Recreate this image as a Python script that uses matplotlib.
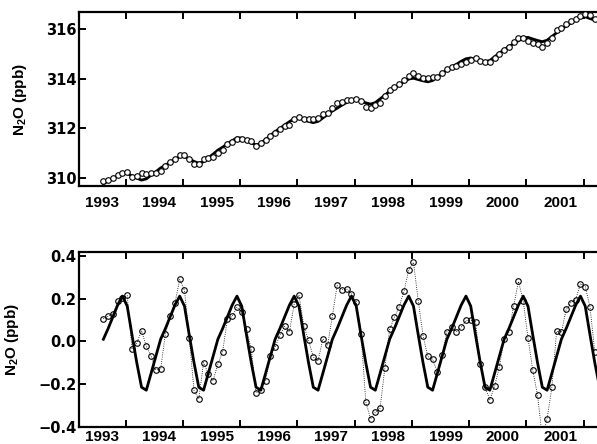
import numpy as np
import matplotlib
matplotlib.use("Agg")
from matplotlib import pyplot as plt

plt.rcParams["font.family"] = ["Liberation Sans", "DejaVu Sans"]
plt.rcParams["font.weight"] = "bold"
plt.rcParams["mathtext.fontset"] = "custom"
plt.rcParams["mathtext.rm"] = "Liberation Sans:bold"
plt.rcParams["mathtext.default"] = "rm"

# monthly samples starting Aug 1992
start_year = 1992.61
n_months = 105

# observed N2O (ppb), monthly
obs = [
    309.85, 309.92, 309.98, 310.10,
    310.17, 310.22, 310.01, 310.07, 310.17, 310.16, 310.18, 310.18, 310.25, 310.48, 310.63, 310.75,
    310.93, 310.92, 310.74, 310.53, 310.53, 310.77, 310.80, 310.84, 310.99, 311.12, 311.36, 311.44,
    311.56, 311.57, 311.53, 311.46, 311.29, 311.38, 311.51, 311.70, 311.82, 311.96, 312.08, 312.13,
    312.35, 312.46, 312.37, 312.38, 312.36, 312.41, 312.57, 312.60, 312.80, 313.01, 313.05, 313.12,
    313.15, 313.18, 313.10, 312.84, 312.82, 312.93, 313.02, 313.28, 313.54, 313.66, 313.78, 313.93,
    314.10, 314.22, 314.12, 314.04, 314.01, 314.07, 314.07, 314.21, 314.39, 314.47, 314.51, 314.60,
    314.69, 314.77, 314.83, 314.71, 314.68, 314.69, 314.82, 314.98, 315.17, 315.27, 315.47, 315.64,
    315.62, 315.52, 315.44, 315.39, 315.26, 315.42, 315.63, 315.97, 316.03, 316.21, 316.31, 316.40,
    316.54, 316.59, 316.56, 316.41,
]

# fitted curve (trend + seasonal cycle)
fit = [
    309.75, 309.86, 309.97, 310.08,
    310.18, 310.17, 310.07, 309.98, 309.90, 309.95, 310.10, 310.24, 310.39, 310.50, 310.625, 310.74,
    310.85, 310.845, 310.75, 310.655, 310.58, 310.64, 310.80, 310.95, 311.11, 311.23, 311.365, 311.49,
    311.61, 311.595, 311.50, 311.40, 311.32, 311.38, 311.54, 311.70, 311.86, 311.99, 312.125, 312.26,
    312.38, 312.405, 312.33, 312.27, 312.22, 312.27, 312.41, 312.55, 312.69, 312.805, 312.925, 313.04,
    313.14, 313.155, 313.09, 313.02, 312.97, 313.03, 313.18, 313.33, 313.49, 313.61, 313.735, 313.87,
    313.98, 314.015, 313.96, 313.91, 313.87, 313.92, 314.06, 314.20, 314.35, 314.46, 314.575, 314.70,
    314.80, 314.835, 314.77, 314.72, 314.68, 314.73, 314.88, 315.03, 315.17, 315.29, 315.415, 315.53,
    315.64, 315.665, 315.60, 315.54, 315.49, 315.55, 315.70, 315.85, 316.00, 316.12, 316.245, 316.37,
    316.48, 316.495, 316.425, 316.36, 316.305,
]

# detrended observations
detr = [
    0.106, 0.117, 0.128, 0.187,
    0.203, 0.215, -0.034, -0.008, 0.050, -0.023, -0.068, -0.134, -0.131, 0.035, 0.117, 0.180,
    0.290, 0.240, 0.017, -0.230, -0.270, -0.100, -0.152, -0.184, -0.106, -0.048, 0.106, 0.117,
    0.160, 0.136, 0.056, -0.037, -0.241, -0.229, -0.184, -0.070, -0.026, 0.030, 0.070, 0.044,
    0.176, 0.217, 0.074, 0.006, -0.073, -0.092, 0.011, -0.019, 0.120, 0.262, 0.242, 0.245,
    0.223, 0.186, 0.036, -0.283, -0.363, -0.333, -0.313, -0.124, 0.056, 0.114, 0.162, 0.234,
    0.334, 0.371, 0.189, 0.027, -0.071, -0.084, -0.143, -0.064, 0.045, 0.065, 0.045, 0.067,
    0.098, 0.098, 0.093, -0.106, -0.215, -0.273, -0.211, -0.120, 0.012, 0.044, 0.167, 0.281,
    0.190, 0.015, -0.135, -0.252, -0.450, -0.363, -0.216, 0.047, 0.042, 0.150, 0.182, 0.195,
    0.271, 0.257, 0.161, -0.050,
]

# seasonal cycle
seas = [
    0.010, 0.060, 0.115, 0.170,
    0.212, 0.165, 0.030, -0.100, -0.215, -0.229, -0.150, -0.070, 0.010, 0.060, 0.115, 0.170,
    0.212, 0.165, 0.030, -0.100, -0.215, -0.229, -0.150, -0.070, 0.010, 0.060, 0.115, 0.170,
    0.212, 0.165, 0.030, -0.100, -0.215, -0.229, -0.150, -0.070, 0.010, 0.060, 0.115, 0.170,
    0.212, 0.165, 0.030, -0.100, -0.215, -0.229, -0.150, -0.070, 0.010, 0.060, 0.115, 0.170,
    0.212, 0.165, 0.030, -0.100, -0.215, -0.229, -0.150, -0.070, 0.010, 0.060, 0.115, 0.170,
    0.212, 0.165, 0.030, -0.100, -0.215, -0.229, -0.150, -0.070, 0.010, 0.060, 0.115, 0.170,
    0.212, 0.165, 0.030, -0.100, -0.215, -0.229, -0.150, -0.070, 0.010, 0.060, 0.115, 0.170,
    0.212, 0.165, 0.030, -0.100, -0.215, -0.229, -0.150, -0.070, 0.010, 0.060, 0.115, 0.170,
    0.212, 0.165, 0.030, -0.100, -0.215,
]

years = list(range(1993, 2002))
top_yticks = [310, 312, 314, 316]
bot_yticks = [-0.4, -0.2, 0.0, 0.2, 0.4]
bot_ylabels = ["\u22120.4", "\u22120.2", "0.0", "0.2", "0.4"]

t = start_year + np.arange(n_months) / 12.0
t_obs = t[:len(obs)]

fig = plt.figure(figsize=(5.97, 4.44), dpi=100)
ax1 = fig.add_axes([0.1323, 0.581, 0.8677, 0.392])
ax2 = fig.add_axes([0.1323, 0.039, 0.8677, 0.394])

ax1.plot(t, fit, "k-", lw=2.0, zorder=2)
ax1.plot(t_obs, obs, "o", mfc="white", mec="k", ms=4, mew=0.8, zorder=3)
ax1.set_ylim(309.66, 316.69)
ax1.set_yticks(top_yticks)
ax1.set_yticklabels([str(v) for v in top_yticks])

ax2.plot(t_obs, detr, "k:", lw=0.6, zorder=2)
ax2.plot(t, seas, "k-", lw=2.0, zorder=3)
ax2.plot(t_obs, detr, "o", mfc="none", mec="k", ms=4, mew=0.8, zorder=4)
ax2.set_ylim(-0.4, 0.42)
ax2.set_yticks(bot_yticks)
ax2.set_yticklabels(bot_ylabels)

# year labels sit a little left of their tick marks
label_shift = 0.41

for ax in (ax1, ax2):
    ax.set_xlim(1992.184, 2001.232)
    ax.set_xticks([y - label_shift for y in years])
    ax.set_xticklabels([str(y) for y in years])
    ax.set_xticks(years, minor=True)
    ax.spines["right"].set_visible(False)
    for s in ("left", "top", "bottom"):
        ax.spines[s].set_linewidth(1.6)
    ax.tick_params(axis="x", which="major", length=0, labelsize=11)
    ax.tick_params(axis="x", which="minor", direction="in", length=5, width=1.4,
                   top=True, bottom=True)
    ax.tick_params(axis="y", direction="in", length=5, width=1.4, pad=2,
                   right=False)
    ax.set_ylabel("N$_2$O (ppb)", fontsize=11, fontweight="bold", labelpad=12)
    for lab in ax.get_xticklabels():
        lab.set_fontweight("bold")
    for lab in ax.get_yticklabels():
        lab.set_fontfamily("DejaVu Sans")
        lab.set_fontweight("bold")
        lab.set_fontsize(10.5)

ax1.tick_params(axis="x", which="major", pad=7)
ax2.tick_params(axis="x", which="major", pad=2.5)

fig.savefig("out.png", dpi=100)
